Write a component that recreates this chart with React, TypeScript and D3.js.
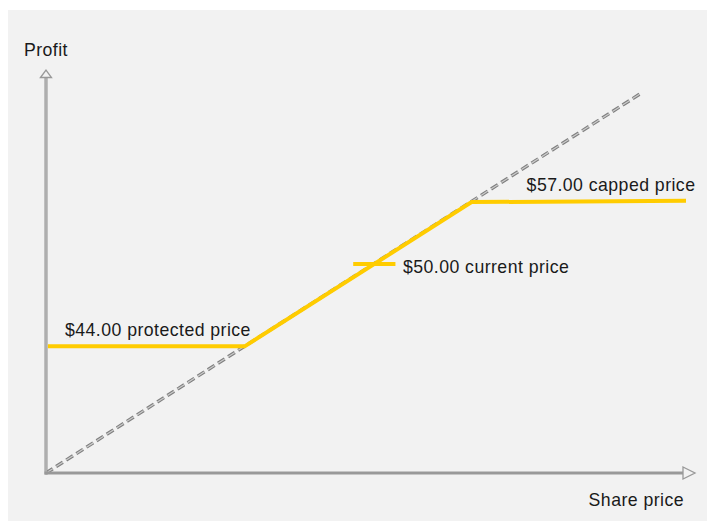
import React from "react";
import * as d3 from "d3";

const payoffPrice = [0.3, 31.05, 66.5, 100];
const payoffProfit = [31.05, 31.05, 66.4, 66.7];
const diagonalPrice = [0, 92.8];
const diagonalProfit = [0, 92.9];
const currentPrice = 51.3;
const currentProfit = 51.2;
const currentHalfWidth = 3.3;
const labels = {
  protected: "$44.00 protected price",
  current: "$50.00 current price",
  capped: "$57.00 capped price",
  xAxis: "Share price",
  yAxis: "Profit",
};

export default function App() {
  const W = 707, H = 521;
  const x = d3.scaleLinear().domain([0, 100]).range([46, 686]);
  const y = d3.scaleLinear().domain([0, 100]).range([473, 65]);
  const line = d3.line<[number, number]>().x(d => x(d[0])).y(d => y(d[1]));
  const payoff = line(payoffPrice.map((p, i) => [p, payoffProfit[i]]))!;
  const diag = line(diagonalPrice.map((p, i) => [p, diagonalProfit[i]]))!;
  const font = "'Liberation Sans', Arial, sans-serif";
  const fs = 17.7;
  const ox = x(0), oy = y(0);
  return (
    <svg width={W} height={H} style={{ position: "absolute", left: 0, top: 0 }} fontFamily={font}>
      <rect x={0} y={0} width={W} height={H} fill="#ffffff" />
      <rect x={8} y={10} width={W - 8} height={H - 10} fill="#f2f2f2" />
      {/* diagonal dashed */}
      <path d={diag} fill="none" stroke="#7f7f7f" strokeWidth={3.4} strokeDasharray="8 4" />
      <path d={diag} fill="none" stroke="#cccccc" strokeWidth={1.2} strokeDasharray="8 4" />
      {/* axes */}
      <line x1={ox} y1={oy + 1.5} x2={ox} y2={77} stroke="#8e8e8e" strokeWidth={3} />
      <line x1={ox} y1={oy} x2={ox} y2={77} stroke="#cfcfcf" strokeWidth={1} />
      <path d={`M${ox - 5.5},77.5 L${ox},70 L${ox + 5.5},77.5 Z`} fill="#f2f2f2" stroke="#999" strokeWidth={1.3} />
      <line x1={ox - 1.5} y1={oy} x2={683} y2={oy} stroke="#999" strokeWidth={3} />
      <path d={`M683,${oy - 6} L695,${oy} L683,${oy + 6} Z`} fill="#f2f2f2" stroke="#999" strokeWidth={1.3} />
      {/* payoff */}
      <path d={payoff} fill="none" stroke="#ffcc00" strokeWidth={4} />
      <line x1={x(currentPrice - currentHalfWidth)} x2={x(currentPrice + currentHalfWidth)} y1={y(currentProfit)} y2={y(currentProfit)} stroke="#ffcc00" strokeWidth={4} />
      {/* labels */}
      <g fontSize={fs} fill="#1a1a1a" letterSpacing={0.45}>
        <text x={24} y={56}>{labels.yAxis}</text>
        <text x={684} y={506} textAnchor="end">{labels.xAxis}</text>
        <text x={x(0) + 19} y={y(payoffProfit[0]) - 10}>{labels.protected}</text>
        <text x={x(currentPrice + currentHalfWidth) + 7.5} y={y(currentProfit) + 9}>{labels.current}</text>
        <text x={x(payoffPrice[2]) + 55} y={y(payoffProfit[2]) - 11}>{labels.capped}</text>
      </g>
    </svg>
  );
}
